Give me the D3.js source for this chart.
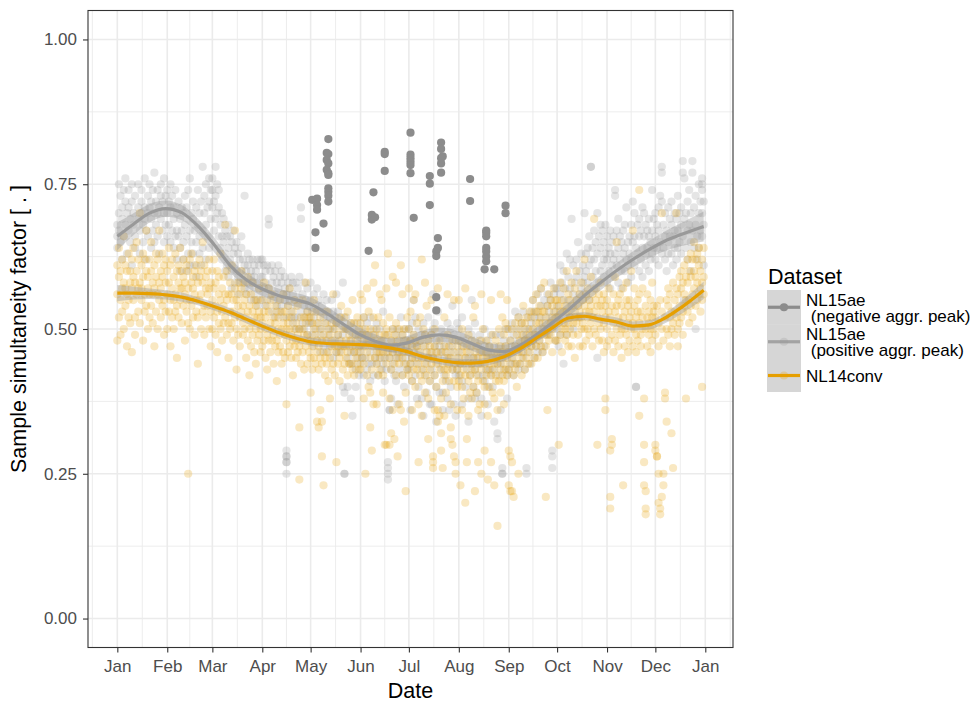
<!DOCTYPE html>
<html>
<head>
<meta charset="utf-8">
<script src="https://cdn.jsdelivr.net/npm/d3@7"></script>
<style>
  body { margin: 0; background: #ffffff; }
  svg { display: block; font-family: "Liberation Sans", Arial, Helvetica, sans-serif; }
</style>
</head>
<body>
<svg id="chart" width="974" height="702"></svg>
<script>
// ---------------------------------------------------------------
// Data: daily sample simultaneity factors for 2015 (values x 100),
// one list per day starting 1 January.
// ---------------------------------------------------------------

// NL14conv
const nl14conv = [
  // Jan
  [56,48,61],[59,52,64],[55,60,49],[62,57,53],[50,58,66],[54,61,57],[47,56,60],[63,55,52],[58,51,60],[46,57,62],
  [55,64,59],[52,58,49],[60,56,65],[57,53,62],[70,58,51],[55,61,57],[48,59,63],[56,62,53],[60,54,67],[57,50,59],
  [62,56,52],[54,60,65],[58,51,56],[61,57,47],[53,59,63],[56,62,50],[67,55,58],[52,60,57],[59,54,63],[55,61,49],[58,53,62],
  // Feb
  [56,60,50],[53,58,64],[61,55,47],[57,52,62],[50,59,55],[63,56,53],[54,60,45],[58,52,61],[55,64,57],[51,57,60],
  [59,54,62],[56,48,58],[53,61,55],[25,57,60,51],[62,55,50],[54,58,63],[57,52,59],[60,49,56],[55,61,53],[52,58,44],
  [59,55,62],[56,50,60],[53,58,65],[61,54,49],[57,52,59],[54,60,56],[50,57,62],[58,53,47],
  // Mar
  [55,60,50],[52,57,62],[58,49,54],[53,60,46],[56,51,59],[50,55,63],[57,53,48],[54,59,51],[68,52,56],[49,55,60],
  [56,51,45],[53,58,50],[51,56,61],[55,48,53],[67,52,57],[50,55,43],[54,58,49],[52,47,56],[57,53,60],[49,54,51],
  [55,50,58],[52,45,56],[48,53,59],[54,50,42],[51,56,47],[53,49,58],[46,52,55],[50,54,44],[55,48,52],[49,53,57],[52,46,50],
  // Apr
  [51,47,55],[48,53,58],[52,45,50],[49,54,43],[53,48,57],[46,51,55],[50,56,48],[44,52,49],[51,47,54],[48,53,41],
  [52,46,50],[47,55,49],[50,44,53],[46,51,56],[49,53,45],[37,48,52,50],[51,46,54],[47,50,57],[52,45,49],[48,53,42],
  [50,47,55],[45,51,48],[49,54,46],[33,24,50,47],[52,48,44],[46,50,55],[49,43,52],[51,47,58],[44,49,53],[48,52,46],
  // May
  [39,48,52,45],[47,51,43],[50,45,55],[44,49,53],[34,48,51,46],[33,47,43],[36,50,45,52],[34,28,48,44],[23,49,46],[45,51,42],
  [48,44,53],[46,50,41],[38,49,45],[51,47,43],[44,48,56],[47,42,50],[27,46,51],[49,44,47],[45,52,41],[48,46,54],
  [43,50,47],[35,47,52,44],[50,45,48],[46,42,53],[49,47,44],[44,51,48],[47,43,55],[51,46,42],[45,49,47],[48,44,52],[46,50,43],
  // Jun
  [47,43,51,56],[49,45,55],[44,48,52,38],[25,47,50],[46,42,49,57],[40,48,53],[33,45,50,39],[29,47,43],[37,49,52,58],[45,61,48],
  [50,44,46,37],[47,52,42],[43,49,46,56],[48,45,55],[46,51,42,39],[30,47,49],[30,44,50,57],[49,63,46],[30,45,52,38],[32,48,43],
  [46,50,59,36],[31,44,49],[47,42,51,58],[28,48,45],[44,50,46,37],[36,47,61],[45,49,42,56],[34,46,50],[22,48,44,39],[47,43,52],
  // Jul
  [46,42,50,57],[44,48,53],[41,47,45,36],[49,43,55],[45,40,48,56],[47,51,43],[27,46,44,37],[42,48,52],[62,45,41,35],[47,43,50],
  [44,49,39,58],[46,42,54],[31,45,48,38],[43,47,41],[49,44,46,55],[28,27,26,45],[42,47,50,36],[46,40,44],[34,36,45,57],[35,48,43],
  [32,29,46,38],[26,44,41],[47,43,52,35],[42,46,39],[45,49,43,56],[41,44,47],[33,31,45,37],[30,43,48],[28,46,41,55],[27,25,44],[43,47,40,36],
  // Aug
  [45,41,48,55],[23,44,42],[46,40,50,36],[43,47,38],[20,45,42,57],[27,31,46],[41,44,49,35],[47,42,39],[44,48,43,38],[40,45,52],
  [22,46,43,54],[42,39,47],[27,45,41,36],[44,48,37],[25,43,46,56],[41,45,50],[29,44,40,37],[46,42,48],[24,43,45,35],[40,47,44],
  [27,45,42,55],[43,39,49],[23,46,44,38],[42,48,41],[16,44,46,36],[45,41,50],[43,47,39,56],[46,42,52],[44,49,41,37],[47,43,51],[45,50,42,55],
  // Sep
  [23,29,46,43],[22,28,48],[22,27,44,50],[21,45,42],[47,43,51],[44,49,40],[25,46,52],[48,44,50],[45,51,42],[49,46,54],
  [43,48,51],[47,52,45],[50,44,48],[46,53,49],[52,47,44],[48,55,50],[45,49,53],[51,47,56],[49,53,45],[54,48,51],
  [47,52,57],[50,46,53],[53,49,58],[21,51,47],[36,54,49],[52,48,56],[49,55,51],[54,50,46],[51,57,53],[48,52,55],
  // Oct
  [52,48,55],[30,51,54],[49,53,58],[55,50,46],[51,57,53],[48,54,50],[53,49,60],[56,51,47],[50,55,52],[53,47,58],
  [49,54,51],[57,52,45],[51,55,60],[54,49,52],[47,53,56],[52,58,50],[55,51,47],[50,54,62],[53,48,56],[57,52,50],
  [49,55,53],[54,51,59],[52,56,47],[69,53,50],[55,49,57],[30,52,54],[51,56,48],[54,50,58],[48,53,55],[56,51,46],[36,38,52,54],
  // Nov
  [50,55,47],[53,48,57],[29,21,19,52],[31,30,54,49],[51,56,46],[48,53,59],[65,50,54],[52,47,55],[49,56,51],[54,50,45],
  [23,52,57],[47,53,50],[55,49,58],[51,46,54],[48,55,52],[53,50,60],[67,47,51],[50,54,57],[46,52,49],[55,48,53],
  [35,74,51,56],[49,53,47],[52,57,50],[38,30,27,23],[22,19,18,50,54],[47,52,56],[53,49,51],[50,55,46],[48,52,58],[54,50,53],
  // Dec
  [30,29,52,49],[28,28,54],[25,20,51,47],[19,18,55],[21,70,50,53],[23,25,48],[39,38,52],[34,55,50],[49,54,57],[52,47,56],
  [32,53,50],[26,51,58],[55,49,53],[70,52,57],[50,56,47],[54,59,51],[57,52,60],[53,58,49],[56,61,54],[38,55,59],
  [58,53,62],[55,60,51],[59,54,63],[56,62,52],[60,57,65],[54,59,62],[58,63,55],[61,56,64],[57,60,53],[40,62,58,55],[59,64,56]
];

// NL15ae, positive aggregated peak
const nl15aePositive = [
  // Jan
  [66,68,64],[70,75,67],[65,73],[69,62,71],[74,66],[76,68,72],[63,70],[71,67,74],[65,69],[72,75,61],
  [68,70],[66,73,64],[],[71,69,75],[67,63],[74,70,72],[68,65],[76,71,69],[62,67],[73,70,66],
  [71,75],[69,64,72],[74,67],[70,77,65],[72,68],[66,74,70],[63,71],[75,69,73],[67,72],[70,65,76],[73,68],
  // Feb
  [70,74,66],[68,72],[65,71,75],[73,67],[69,64,71],[66,74],[67,62,70],[72,66],[64,69,60],[71,67],
  [62,70,65],[68,73],[60,66,71],[74,63],[76,67,61],[65,70],[69,63,72],[61,67],[71,65,59],[68,74],
  [63,70,66],[72,61],[78,67,64],[70,73],[62,75,68],[66,71],[76,72,64],[69,74],
  // Mar
  [74,71,76],[72,67],[78,73,69],[75,70],[71,66,74],[68,64],[70,62,66],[65,69],[63,67,60],[66,61],
  [64,59,68],[62,66],[60,65,57],[67,63],[61,58,64],[65,60],[59,63,56],[62,58],[64,60,66],[58,62],
  [73,61,57],[60,56],[63,58,61],[57,62],[60,55,59],[62,58],[56,61,59],[60,55],[58,62,54],[61,57],[55,59,62],
  // Apr
  [59,56,62],[57,61],[54,60,58],[61,55],[69,68,57],[56,60],[58,53,61],[55,59],[60,56,52],[54,58],
  [57,61,55],[53,59],[58,54,60],[56,52],[59,55,57],[29,28,27,27,28,25,56],[54,58],[57,52,55],[53,59],[56,51,58],
  [55,52],[58,54,50],[52,57],[55,50,59],[71,69,53],[51,56],[54,58,50],[52,55],[57,49,53],[54,51],
  // May
  [55,51,58],[53,49],[56,52,47],[50,54],[53,48,57],[51,55],[49,53,46],[54,50],[52,47,56],[48,53],
  [51,46,55],[53,49],[47,52,50],[55,48],[50,45,53],[48,52],[51,46,56],[49,53],[46,51,48],[52,47],
  [58,40,49],[25,25,50,39],[47,52],[40,50,45],[48,44],[51,38,46],[35,49,44],[46,50],[40,48,43],[45,51],[47,42,49],
  // Jun
  [44,49,46],[50,45],[47,42,52],[45,49],[43,48,51],[49,44],[46,52,41],[48,44],[42,47,50],[49,45],
  [44,51,47],[46,42],[50,45,48],[43,47],[48,53,44],[45,41],[49,46,43],[27,26,25,24,47],[36,36,45],[48,43,38],
  [44,50,46],[47,42],[45,49,41],[50,46,37],[43,48,45],[47,52],[42,46,49],[48,44,40],[45,50,47],[43,48],
  // Jul
  [46,50,43],[48,44,36],[45,51,41],[49,46,55],[42,47,52],[47,44,38],[50,45,40],[46,48],[43,49,38],[51,45,35],
  [47,42,49],[44,39],[48,52,45],[41,46,37],[49,43,37],[45,50,56],[42,47,51],[48,40,34],[44,53,46],[39,47],
  [50,43,48],[46,36,39],[42,49,45],[47,41],[51,44,38],[45,48,36],[40,46,50],[47,43,54],[44,49,37],[48,42,35],[45,51,43],
  // Aug
  [46,42,50],[44,48],[41,47,52,37],[49,44],[45,40,48],[43,47],[50,45,38,34],[46,42],[44,49,47,55],[40,45],
  [48,43,51,38],[45,39],[42,47,44],[49,46],[44,38,48,35],[46,42],[41,47,50],[45,43],[48,40,46,37],[43,47],
  [46,42,49],[40,45],[34,47,43],[45,49],[32,31,44],[47,42],[44,49,46,36],[26,25,25,45],[48,43],[45,50,47],[42,46,38],
  // Sep
  [46,50,43],[48,44],[45,51,47],[49,42],[47,53,44],[50,46],[43,48,52],[47,44],[51,46,49],[45,53],
  [48,50,43],[26,25,49],[46,52,48],[50,44],[47,53,51],[55,48],[49,45,52],[53,47],[50,56,46],[48,52],
  [54,49,57],[51,46],[47,55,50],[52,49],[56,50,54],[49,53],[55,51,58],[29,28,26,52],[50,56],[53,48,57],
  // Oct
  [54,50,57],[52,47],[56,61,49],[53,58],[44,55,60],[57,51],[54,63,49],[59,55],[52,57,62],[69,54],
  [56,61,50],[58,53],[62,55,59],[54,65],[60,56,52],[57,63],[55,61,58],[70,59],[63,56,60],[58,64],
  [61,55,66],[78,78,62],[59,64],[62,57,67],[60,65],[70,63,45],[58,66],[64,60,68],[61,67],[65,59,62],[63,68],
  // Nov
  [62,58,66],[60,64],[57,63,67],[65,61],[59,66,62],[74,73,63],[61,67],[64,58,69],[62,66],[60,65,57],
  [67,63],[64,60,68],[71,62],[58,65,61],[66,63],[62,68,59],[72,65],[70,61,66],[40,40,64],[63,68],
  [66,60,69],[62,67],[71,64,59],[70,66],[63,68,61],[67,64],[60,66,69],[65,62],[74,67,63],[64,69],
  // Dec
  [66,62,70],[64,68],[61,67,71],[73,65],[78,77,72,63],[68,64],[62,70,66],[67,60],[65,71,63],[69,66],
  [63,68,72],[66,61],[70,64,67],[62,69],[67,73,64],[65,70],[71,63,68],[79,77,66],[76,55,69],[64,70],
  [72,67,62],[68,74],[65,70,60],[79,77,67],[71,64],[50,68,73],[66,62],[70,75,64],[67,72],[76,75,74,70,66],[72,68,61]
];

// NL15ae, negative aggregated peak (day of year, factor)
const negPeakDays = [
  121,124,124,124,123,123,128,
  131,130,131,130,131,130,131,131,131,131,131,131,
  159,158,158,160,156,
  166,166,166,
  182,182,182,182,182,182,184,
  194,194,194,
  201,201,202,201,201,201,
  199,199,198,198,198,198,
  219,219,
  229,229,229,229,229,229,229,228,234,
  241,241
];
const negPeakValues = [
  0.723,0.725,0.714,0.706,0.667,0.640,0.682,
  0.828,0.804,0.802,0.792,0.786,0.775,0.769,0.766,0.743,0.737,0.730,0.720,
  0.736,0.697,0.689,0.693,0.635,
  0.806,0.802,0.773,
  0.839,0.801,0.795,0.789,0.783,0.769,0.692,
  0.764,0.751,0.714,
  0.822,0.811,0.798,0.795,0.786,0.770,
  0.657,0.640,0.634,0.626,0.555,0.532,
  0.759,0.721,
  0.670,0.666,0.660,0.640,0.634,0.625,0.617,0.603,0.603,
  0.713,0.700
];

// Smoothed trends (loess) with standard-error half widths
const smoothDays   = [0,10,20,30,40,50,60,70,80,90,100,110,120,130,140,150,160,170,180,190,200,210,220,230,240,250,260,270,280,290,300,310,320,330,340,350,364];
const nl15aeTrend  = [0.660,0.681,0.700,0.708,0.701,0.678,0.646,0.610,0.585,0.569,0.558,0.551,0.543,0.527,0.509,0.491,0.479,0.472,0.476,0.486,0.490,0.486,0.475,0.464,0.461,0.472,0.490,0.511,0.533,0.558,0.580,0.601,0.620,0.637,0.652,0.663,0.677];
const nl15aeSE     = [0.024,0.019,0.016,0.014,0.013,0.013,0.013,0.012,0.012,0.012,0.012,0.012,0.012,0.012,0.012,0.012,0.012,0.012,0.012,0.012,0.012,0.012,0.012,0.012,0.012,0.012,0.012,0.012,0.012,0.013,0.013,0.013,0.014,0.015,0.017,0.020,0.026];
const nl14convTrend= [0.562,0.562,0.561,0.559,0.555,0.548,0.539,0.529,0.517,0.505,0.494,0.485,0.478,0.475,0.474,0.473,0.471,0.467,0.461,0.452,0.446,0.442,0.441,0.444,0.452,0.466,0.484,0.502,0.519,0.522,0.517,0.512,0.505,0.507,0.519,0.537,0.567];
const nl14convSE   = [0.014,0.011,0.009,0.008,0.008,0.007,0.007,0.007,0.007,0.007,0.007,0.007,0.007,0.007,0.007,0.007,0.007,0.007,0.007,0.007,0.007,0.007,0.007,0.007,0.007,0.007,0.007,0.007,0.007,0.007,0.007,0.008,0.008,0.008,0.009,0.011,0.015];

// Axis ticks and labels
const monthLabels = ["Jan","Feb","Mar","Apr","May","Jun","Jul","Aug","Sep","Oct","Nov","Dec","Jan"];
const yTicks = [0, 0.25, 0.5, 0.75, 1];
const yTickLabels = ["0.00","0.25","0.50","0.75","1.00"];
const yMinorTicks = [0.125, 0.375, 0.625, 0.875];

// Legend entries
const legendTitle = "Dataset";
const legendEntries = [
  { lines: ["NL15ae", " (negative aggr. peak)"], kind: "neg" },
  { lines: ["NL15ae", " (positive aggr. peak)"], kind: "pos" },
  { lines: ["NL14conv"], kind: "conv" }
];

// ---------------------------------------------------------------
// Drawing
// ---------------------------------------------------------------
const COL_GREY = "#999999";
const COL_DARK = "#8c8c8c";
const COL_ORANGE = "#E69F00";
const FONT = '"Liberation Sans", Arial, Helvetica, sans-serif';

const svg = d3.select("#chart");
const panel = { left: 88, right: 733, top: 10.5, bottom: 647.5 };

const start = new Date(2015, 0, 1);
const end = new Date(2015, 11, 31);
const span = end - start;
const x = d3.scaleTime()
  .domain([new Date(+start - span * 0.05), new Date(+end + span * 0.05)])
  .range([panel.left, panel.right]);
const y = d3.scaleLinear().domain([-0.05, 1.05]).range([panel.bottom, panel.top]);
const dayDate = i => d3.timeDay.offset(start, i);

svg.append("rect").attr("width", 974).attr("height", 702).attr("fill", "#ffffff");

// grid
const grid = svg.append("g");
const monthTicks = d3.timeMonth.range(new Date(2015, 0, 1), new Date(2016, 0, 2));
const extMonths = d3.timeMonth.range(new Date(2014, 11, 1), new Date(2016, 1, 2));
const xMinor = d3.pairs(extMonths)
  .map(([a, b]) => new Date((+a + +b) / 2))
  .filter(d => d >= x.domain()[0] && d <= x.domain()[1]);

grid.selectAll(".ymin").data(yMinorTicks).join("line")
  .attr("x1", panel.left).attr("x2", panel.right)
  .attr("y1", d => y(d)).attr("y2", d => y(d))
  .attr("stroke", "#ebebeb").attr("stroke-width", 0.9);
grid.selectAll(".xmin").data(xMinor).join("line")
  .attr("x1", d => x(d)).attr("x2", d => x(d))
  .attr("y1", panel.top).attr("y2", panel.bottom)
  .attr("stroke", "#ebebeb").attr("stroke-width", 0.9);
grid.selectAll(".ymaj").data(yTicks).join("line")
  .attr("x1", panel.left).attr("x2", panel.right)
  .attr("y1", d => y(d)).attr("y2", d => y(d))
  .attr("stroke", "#ebebeb").attr("stroke-width", 1.6);
grid.selectAll(".xmaj").data(monthTicks).join("line")
  .attr("x1", d => x(d)).attr("x2", d => x(d))
  .attr("y1", panel.top).attr("y2", panel.bottom)
  .attr("stroke", "#ebebeb").attr("stroke-width", 1.6);

// flatten daily lists into points
const flatten = lists => lists.flatMap((vals, i) => vals.map(v => ({ date: dayDate(i), value: v / 100 })));
const posPoints = flatten(nl15aePositive);
const convPoints = flatten(nl14conv);
const negPoints = negPeakDays.map((d, i) => ({ date: dayDate(d), value: negPeakValues[i] }));

const R = 4.1;
const pts = svg.append("g");
pts.selectAll(".pos").data(posPoints).join("circle")
  .attr("cx", d => x(d.date)).attr("cy", d => y(d.value)).attr("r", R)
  .attr("fill", COL_GREY).attr("fill-opacity", 0.26);
pts.selectAll(".conv").data(convPoints).join("circle")
  .attr("cx", d => x(d.date)).attr("cy", d => y(d.value)).attr("r", R)
  .attr("fill", COL_ORANGE).attr("fill-opacity", 0.24);
pts.selectAll(".neg").data(negPoints).join("circle")
  .attr("cx", d => x(d.date)).attr("cy", d => y(d.value)).attr("r", R)
  .attr("fill", COL_DARK);

// smooth trends with confidence ribbons
function drawTrend(values, se, colour) {
  const rows = smoothDays.map((d, i) => ({ date: dayDate(d), v: values[i], se: se[i] }));
  const area = d3.area().curve(d3.curveMonotoneX)
    .x(d => x(d.date)).y0(d => y(d.v - d.se)).y1(d => y(d.v + d.se));
  const line = d3.line().curve(d3.curveMonotoneX)
    .x(d => x(d.date)).y(d => y(d.v));
  svg.append("path").datum(rows).attr("d", area)
    .attr("fill", COL_GREY).attr("fill-opacity", 0.4);
  svg.append("path").datum(rows).attr("d", line)
    .attr("fill", "none").attr("stroke", colour).attr("stroke-width", 3.2);
}
drawTrend(nl15aeTrend, nl15aeSE, COL_GREY);
drawTrend(nl14convTrend, nl14convSE, COL_ORANGE);

// panel border
svg.append("rect")
  .attr("x", panel.left).attr("y", panel.top)
  .attr("width", panel.right - panel.left).attr("height", panel.bottom - panel.top)
  .attr("fill", "none").attr("stroke", "#333333").attr("stroke-width", 1.1);

// axes
const xAxis = svg.append("g")
  .attr("transform", `translate(0,${panel.bottom})`)
  .call(d3.axisBottom(x).tickValues(monthTicks).tickFormat((d, i) => monthLabels[i])
    .tickSize(5).tickPadding(7.5));
const yAxis = svg.append("g")
  .attr("transform", `translate(${panel.left},0)`)
  .call(d3.axisLeft(y).tickValues(yTicks).tickFormat((d, i) => yTickLabels[i])
    .tickSize(5).tickPadding(6));
[xAxis, yAxis].forEach(g => {
  g.select(".domain").remove();
  g.attr("font-family", FONT).attr("font-size", 17);
  g.selectAll(".tick line").attr("stroke", "#333333").attr("stroke-width", 1.1);
  g.selectAll(".tick text").attr("fill", "#4d4d4d");
});

// axis titles
svg.append("text")
  .attr("x", (panel.left + panel.right) / 2).attr("y", 697.5)
  .attr("text-anchor", "middle").attr("font-size", 21.5).attr("fill", "#000")
  .text("Date");
svg.append("text")
  .attr("transform", `translate(26,${(panel.top + panel.bottom) / 2}) rotate(-90)`)
  .attr("text-anchor", "middle").attr("font-size", 21.5).attr("fill", "#000")
  .text("Sample simultaneity factor [ . ]");

// legend
const lg = svg.append("g");
lg.append("text").attr("x", 768).attr("y", 283.5)
  .attr("font-size", 21.5).attr("fill", "#000").text(legendTitle);

const keyX = 767, keyW = 34;
const rowTops = [290, 324.5, 359, 392];
legendEntries.forEach((e, i) => {
  const top = rowTops[i], bottom = rowTops[i + 1];
  const cy = (top + bottom) / 2;
  lg.append("rect").attr("x", keyX).attr("y", top)
    .attr("width", keyW).attr("height", bottom - top)
    .attr("fill", COL_GREY).attr("fill-opacity", 0.4);
  const lineCol = e.kind === "conv" ? COL_ORANGE : (e.kind === "neg" ? COL_DARK : "#a3a3a3");
  lg.append("line").attr("x1", keyX + 1).attr("x2", keyX + keyW - 1)
    .attr("y1", cy).attr("y2", cy)
    .attr("stroke", lineCol).attr("stroke-width", 3.2);
  lg.append("circle").attr("cx", keyX + keyW / 2).attr("cy", cy).attr("r", R)
    .attr("fill", e.kind === "conv" ? COL_ORANGE : (e.kind === "neg" ? COL_DARK : COL_GREY))
    .attr("fill-opacity", e.kind === "neg" ? 1 : 0.25);
  const firstBase = e.lines.length === 2 ? cy - 1.5 : cy + 6;
  e.lines.forEach((t, j) => {
    lg.append("text").attr("x", 806).attr("y", firstBase + j * 16.2)
      .attr("font-size", 17).attr("fill", "#000")
      .style("white-space", "pre")
      .text(t);
  });
});
</script>
</body>
</html>
